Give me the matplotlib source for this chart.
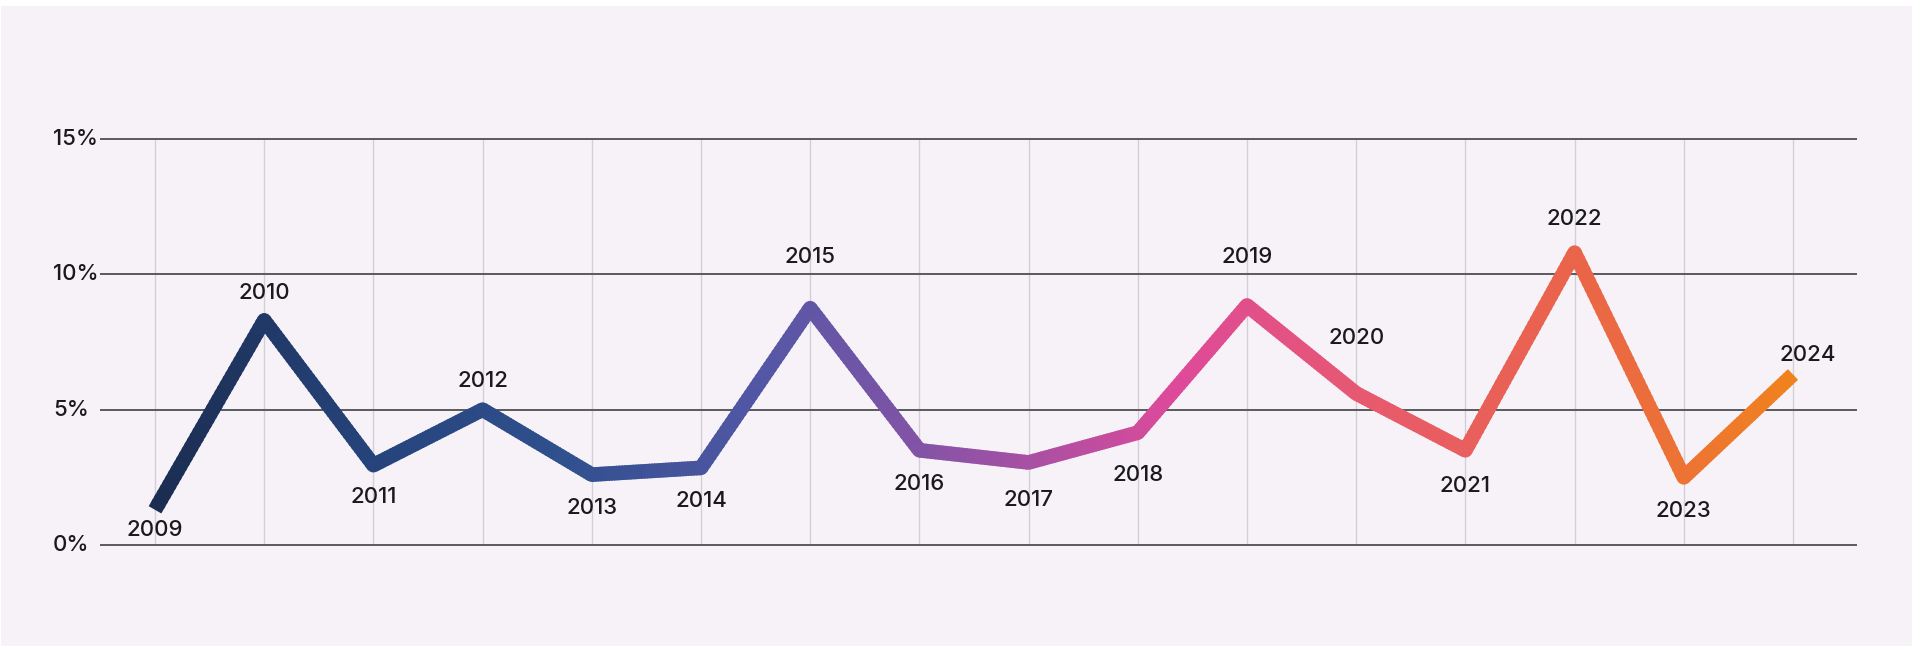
import numpy as np
import matplotlib
matplotlib.use('Agg')
import matplotlib.pyplot as plt
from matplotlib.collections import LineCollection
from matplotlib.colors import LinearSegmentedColormap
from matplotlib.patches import Rectangle

plt.rcParams['font.family'] = ['Inter', 'DejaVu Sans']

# data
years = [2009, 2010, 2011, 2012, 2013, 2014, 2015, 2016,
         2017, 2018, 2019, 2020, 2021, 2022, 2023, 2024]
values = [1.3, 8.3, 2.95, 5.0, 2.6, 2.85, 8.75, 3.5,
          3.05, 4.15, 8.85, 5.6, 3.5, 10.8, 2.5, 6.3]
ytick_vals = [0, 5, 10, 15]
ytick_labels = ['0%', '5%', '10%', '15%']

# label offsets in pixels (dx, dy) from each point
label_offsets = [(0, -20), (0, 27), (0, -32), (0, 29), (0, -33), (0, -33), (0, 51), (0, -34),
                 (0, -38), (0, -42), (0, 48), (0, 55), (0, -36), (0, 34), (0, -34), (15, 19)]

grad_colors = ['#1b2d50', '#25437a', '#30508e', '#5457a6', '#9452a6',
               '#de4a9a', '#e85a6c', '#ea6548', '#f0821e']
cmap = LinearSegmentedColormap.from_list('grad', grad_colors)

bg = '#f7f2f8'
W, H = 1912, 646
fig = plt.figure(figsize=(W / 100, H / 100), dpi=100, facecolor='white')
bg_rect = Rectangle((1 / W, 0), 1, 1 - 6 / H, transform=fig.transFigure,
                    facecolor=bg, edgecolor='none', zorder=-10)
fig.add_artist(bg_rect)

ax = fig.add_axes([100 / W, 1 - 545 / H, 1757 / W, 406 / H])
ax.set_facecolor('none')
x0 = 2009 - 55 / 109.2
x1 = 2009 + (1857 - 155) / 109.2
ax.set_xlim(x0, x1)
ax.set_ylim(0, 15)
for s in ax.spines.values():
    s.set_visible(False)
ax.set_xticks([])
ax.set_yticks([])

# grid
ax.vlines(years, 0, 15, color='#d2d0d6', lw=1.0, zorder=1, clip_on=False)
ax.hlines(ytick_vals, x0, x1, color='#5a5a5e', lw=1.4, zorder=1, clip_on=False)
for v, lab in zip(ytick_vals, ytick_labels):
    fig.text(53 / W, 1 - (545 - v * 27.07) / H, lab, ha='left', va='center',
             fontsize=16, fontweight='medium', color='#1a1a1a')

# gradient line: short overlapping pieces inside each segment, so no seams
xs = np.array(years, dtype=float)
ys = np.array(values, dtype=float)
n = 40
segs = []
for i in range(len(xs) - 1):
    t = np.linspace(0, 1, n + 1)
    for j in range(n):
        ta, tb = t[j], min(t[j + 1] + 0.5 / n, 1.0)
        segs.append([(xs[i] + ta * (xs[i + 1] - xs[i]), ys[i] + ta * (ys[i + 1] - ys[i])),
                     (xs[i] + tb * (xs[i + 1] - xs[i]), ys[i] + tb * (ys[i + 1] - ys[i]))])
segs = np.array(segs)
frac = (segs[:, :, 0].mean(axis=1) - xs[0]) / (xs[-1] - xs[0])
lw = 10.5
lc = LineCollection(segs, colors=cmap(frac), linewidths=lw, capstyle='butt', zorder=3)
ax.add_collection(lc)
# rounded joints
inner = np.arange(1, len(xs) - 1)
ax.scatter(xs[inner], ys[inner], s=lw ** 2, color=cmap((xs[inner] - xs[0]) / (xs[-1] - xs[0])),
           edgecolors='none', zorder=4, clip_on=False)

# year labels
for x, y, (dx, dy) in zip(years, values, label_offsets):
    ax.annotate(str(x), (x, y), xytext=(dx * 0.72, dy * 0.72), textcoords='offset points',
                ha='center', va='center', fontsize=16, fontweight='medium',
                color='#1a1a1a', zorder=5, annotation_clip=False)

fig.savefig('out.png', dpi=100, facecolor=fig.get_facecolor())
